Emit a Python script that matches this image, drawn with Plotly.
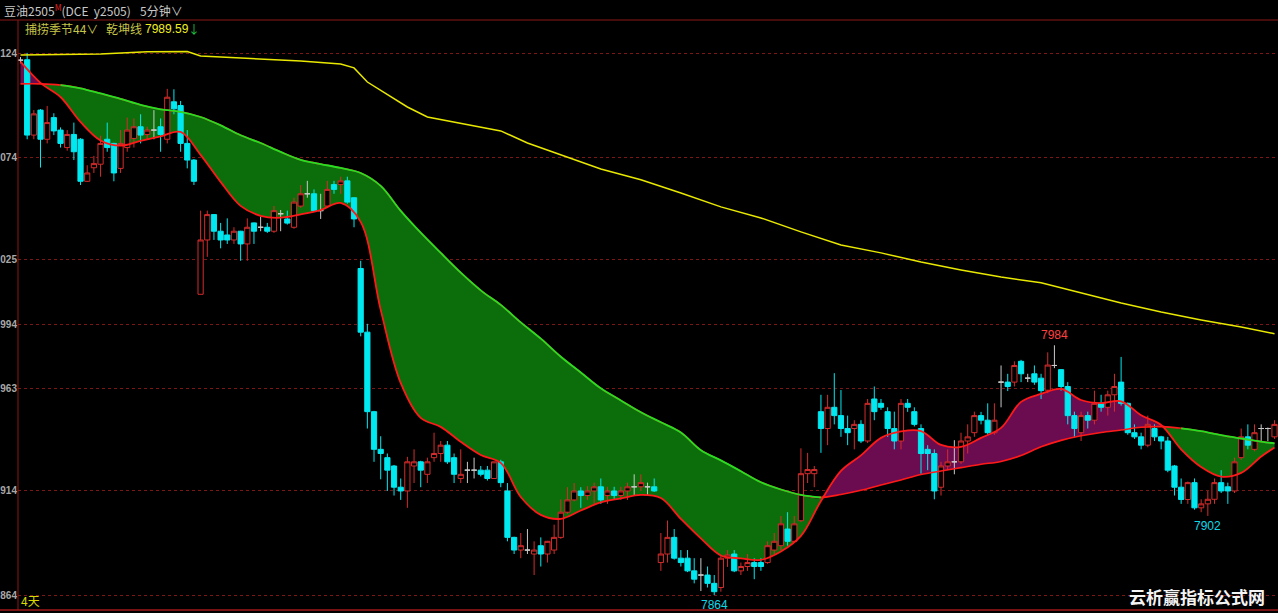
import numpy as np
import plotly.graph_objects as go

# ---------------- data (5-minute candles, index = bar number) ----------------
open_ = [8121, 8121.2, 8085, 8097, 8083, 8093.4, 8087.4, 8079, 8085.3, 8083,
         8062.8, 8069.3, 8071, 8083, 8081, 8069, 8079, 8083.4, 8089, 8085.3,
         8087.4, 8089, 8083, 8101, 8099.2, 8081, 8073, 8008.5, 8034.6, 8046.8,
         8038.8, 8037, 8034.6, 8038.8, 8032.7, 8042.8, 8040.7, 8040.7, 8038.8, 8047.2,
         8044.7, 8040.7, 8050.9, 8056.8, 8056.8, 8048.7, 8050.9, 8061.2, 8061.2, 8063,
         8054.9, 8020.9, 7990.3, 7952.1, 7934, 7930, 7926, 7915.8, 7914, 7926,
         7928, 7922, 7930, 7932, 7936, 7930, 7920, 7924, 7924, 7924,
         7924, 7920, 7928, 7914, 7891.7, 7885.6, 7885.6, 7883.7, 7887.7, 7883.7,
         7885.6, 7891.7, 7903.8, 7909.7, 7914, 7911.8, 7914, 7916, 7911.8, 7914,
         7911.8, 7914, 7916, 7916, 7916, 7916, 7879.6, 7883.7, 7891.7, 7881.7,
         7881.7, 7875.6, 7873.6, 7873.6, 7869.6, 7867.6, 7881.7, 7883.7, 7875.6, 7877.7,
         7879.6, 7879.6, 7879.6, 7885.6, 7887.7, 7895.7, 7889.8, 7899.7, 7922.3, 7922.3,
         7952.1, 7944, 7954.2, 7950.2, 7944, 7944, 7946, 7938, 7958.2, 7956.1,
         7952.1, 7944, 7938, 7956.1, 7952.1, 7944, 7934, 7932, 7915.8, 7926,
         7928, 7928, 7938, 7942, 7950.2, 7948, 7942, 7966.3, 7966.3, 7966.3,
         7976.3, 7968.2, 7970.3, 7968.2, 7962.4, 7974.3, 7972.3, 7964.2, 7950.2, 7942,
         7950.2, 7948, 7956.1, 7954.2, 7960.2, 7966.3, 7956.1, 7942, 7940, 7936,
         7944, 7940, 7938, 7926, 7915.8, 7909.9, 7918, 7905.9, 7907.8, 7910,
         7918, 7916, 7914, 7930, 7940, 7934, 7944, 7944, 7940]
high = [8122.5, 8124.5, 8097, 8097.5, 8099, 8095.5, 8088.7, 8087.4, 8091, 8083.5,
        8070.5, 8075, 8084.7, 8091, 8081.3, 8087.4, 8093.4, 8093, 8095, 8089,
        8097, 8093, 8107.2, 8107, 8101.4, 8087.4, 8073.5, 8048.7, 8048.7, 8047,
        8042.8, 8045, 8040.7, 8039, 8045, 8043, 8045.8, 8042.8, 8050.9, 8049,
        8048.7, 8054.9, 8061, 8063, 8058.9, 8056.8, 8063, 8063, 8065, 8065,
        8055, 8024.6, 7994.3, 7952.5, 7940.3, 7932, 7926.5, 7920, 7930.4, 7934,
        7928.5, 7930, 7942, 7938, 7938, 7932, 7934, 7928, 7930, 7926,
        7926, 7928, 7929, 7917.8, 7892, 7893.8, 7895.7, 7889.8, 7891.7, 7890,
        7897.8, 7909.9, 7915.8, 7917.8, 7915.8, 7916.3, 7918, 7920, 7916, 7916,
        7916, 7918, 7922, 7922, 7918, 7920, 7893.8, 7899.8, 7895.7, 7885.6,
        7885.6, 7881.7, 7881.7, 7877.7, 7873.6, 7883.3, 7885.6, 7885.6, 7879.6, 7883.7,
        7881.7, 7881.7, 7889.8, 7893.8, 7902, 7903.8, 7902, 7934.5, 7932.3, 7926,
        7960.2, 7960.2, 7970.6, 7962.5, 7950.2, 7948, 7948, 7958.2, 7964.2, 7958.2,
        7954.2, 7952.1, 7958.2, 7958.2, 7954.2, 7946, 7936, 7934, 7928, 7934,
        7938.4, 7942, 7946, 7952.1, 7952, 7956.1, 7956.1, 7974.3, 7970.3, 7976.3,
        7977, 7970.3, 7974.3, 7970.3, 7980.6, 7984, 7972.5, 7966.3, 7952.1, 7952.1,
        7952.1, 7962.2, 7960.2, 7962.2, 7970.3, 7978.4, 7956.5, 7946, 7942, 7950.2,
        7946, 7940.5, 7940, 7926.5, 7920, 7918.5, 7920, 7910, 7914, 7920,
        7924, 7918, 7930, 7944, 7946, 7946, 7946, 7944.5, 7948]
low = [8119.5, 8083, 8083, 8069.4, 8081, 8085, 8079, 8077.5, 8073, 8061,
       8062.5, 8066.8, 8065, 8077, 8062.8, 8066.8, 8077, 8079, 8081, 8083,
       8083, 8077, 8081, 8095, 8077, 8069, 8061, 8008.5, 8026.5, 8034.6,
       8030.6, 8032.7, 8032.7, 8024.6, 8024.6, 8032.7, 8038.8, 8038, 8038, 8038.8,
       8042, 8040, 8050, 8054.9, 8048, 8044.7, 8050, 8056.8, 8056.8, 8052,
       8040.7, 7988.3, 7944, 7928, 7919.6, 7914, 7911.8, 7909.7, 7905.9, 7917.8,
       7915.8, 7917.8, 7928, 7928, 7927, 7917.8, 7917.8, 7917.8, 7920, 7921,
       7919, 7920, 7915.8, 7889.8, 7883.7, 7881.7, 7883.7, 7873.6, 7877.7, 7879.6,
       7883.7, 7891, 7903, 7909, 7905.9, 7909.7, 7907.8, 7907.8, 7907.8, 7909.7,
       7909.7, 7909.7, 7911.8, 7914, 7911.8, 7913.5, 7875.6, 7879.6, 7881, 7877.7,
       7875, 7869.6, 7865.9, 7867.6, 7864, 7865.6, 7877.5, 7875, 7873.6, 7875.6,
       7871.6, 7875.6, 7879, 7883.7, 7885.6, 7887.7, 7889, 7899, 7917.8, 7915.8,
       7932.3, 7936, 7946, 7940, 7936, 7934, 7937, 7937, 7948, 7953,
       7940, 7934, 7934, 7952, 7945, 7922.3, 7924, 7910, 7911.8, 7924,
       7922, 7927, 7932, 7940, 7946, 7941, 7941, 7954.2, 7962, 7964.2,
       7966.3, 7966.3, 7965, 7958.2, 7961, 7973, 7962.2, 7946, 7940, 7938,
       7944, 7946, 7952.1, 7950.2, 7952.1, 7955, 7941, 7939, 7934, 7935,
       7938, 7934, 7923, 7911.8, 7907.8, 7907.8, 7905, 7903.8, 7902, 7907.8,
       7913, 7907.8, 7913, 7929, 7934, 7933, 7938, 7938, 7939]
close = [8121, 8085, 8095.2, 8083, 8091, 8087, 8081, 8085.3, 8077, 8062.8,
         8066.8, 8071.3, 8081, 8079, 8066.8, 8081, 8087.4, 8089, 8085, 8087.4,
         8087.4, 8085.3, 8103.2, 8097.6, 8081, 8073, 8062.8, 8034.6, 8046.8, 8038.8,
         8034.6, 8034.6, 8038.8, 8032.7, 8040.7, 8038.8, 8040.7, 8038.8, 8048.7, 8047.2,
         8042.7, 8052.8, 8056.8, 8056.8, 8048.7, 8048.7, 8058.9, 8058.9, 8063, 8052.8,
         8044.7, 7990.3, 7952.1, 7934, 7932, 7924, 7915.8, 7914, 7928, 7928,
         7924, 7928, 7932, 7936, 7928, 7922, 7922, 7924, 7924, 7922,
         7920, 7928, 7918, 7891.7, 7885.6, 7887.7, 7885.6, 7885.6, 7883.7, 7889.8,
         7891.7, 7903.8, 7909.7, 7914, 7911.8, 7914, 7916, 7909.7, 7914, 7911.8,
         7914, 7916, 7916, 7918, 7916, 7914, 7883.7, 7891.7, 7881.7, 7879.6,
         7875.6, 7871.6, 7873.6, 7869.6, 7865.6, 7881.7, 7883.3, 7875.6, 7877.7, 7879.6,
         7877.7, 7877.7, 7887.7, 7889.8, 7898.2, 7889.8, 7898.2, 7922.3, 7924.3, 7924.3,
         7944, 7954.2, 7950.2, 7944, 7942, 7946, 7938, 7956.1, 7952.1, 7954.2,
         7944, 7938, 7956.1, 7954.2, 7946, 7932, 7932, 7914, 7926, 7928,
         7928, 7938, 7940, 7950.2, 7948, 7942, 7948, 7966.3, 7964.2, 7974.3,
         7970.3, 7968.2, 7966.3, 7962.2, 7974.5, 7974.3, 7964.2, 7950.2, 7944, 7950.2,
         7948, 7956.1, 7954.2, 7960.2, 7964.2, 7956.1, 7942, 7940, 7936, 7946,
         7940, 7938, 7924, 7915.8, 7909.9, 7918, 7905.9, 7907.8, 7910, 7918,
         7914, 7914, 7928, 7940, 7936, 7942, 7944, 7944, 7946]

# 捕捞季节 short / long lines, read every 3 bars
ma_idx = list(range(0, 187, 3)) + [188]
ma_short = [8120.3, 8110.1, 8103.3, 8091.3, 8082.4, 8079.9, 8082.2, 8084.4, 8086.5, 8075.5,
            8062.5, 8051.0, 8046.2, 8045.3, 8046.9, 8049.0, 8052.4, 8043.3, 8001.0, 7965.9,
            7949.1, 7944.8, 7937.6, 7931.3, 7927.5, 7911.1, 7902.5, 7900.6, 7904.6, 7908.5,
            7910.4, 7912.1, 7910.6, 7900.6, 7891.2, 7883.0, 7881.6, 7880.9, 7884.9, 7892.4,
            7909.2, 7923.6, 7931.1, 7939.5, 7942.6, 7942.8, 7936.1, 7935.2, 7939.5, 7944.3,
            7956.8, 7960.6, 7963.0, 7957.7, 7956.2, 7957.1, 7950.4, 7945.7, 7934.0, 7925.5,
            7920.9, 7922.7, 7930.6, 7934.9]
ma_long = [8109.6, 8109.6, 8109.0, 8107.5, 8105.0, 8102.4, 8099.5, 8097.4, 8096.2, 8093.7,
           8089.7, 8084.9, 8081.2, 8076.9, 8073.1, 8071.1, 8069.2, 8066.8, 8060.6, 8048.6,
           8038.1, 8028.4, 8018.9, 8010.4, 8003.4, 7995.0, 7987.2, 7978.5, 7970.9, 7963.3,
           7957.5, 7951.8, 7947.0, 7942.1, 7933.6, 7928.7, 7923.5, 7918.2, 7914.7, 7912.1,
           7910.9, 7912.3, 7914.3, 7916.9, 7919.3, 7921.9, 7923.6, 7925.2, 7926.8, 7928.2,
           7931.0, 7935.2, 7938.3, 7940.5, 7942.1, 7943.3, 7944.6, 7944.9, 7944.1, 7942.7,
           7940.8, 7939.2, 7937.7, 7936.9]

# 乾坤线
qk_idx = [0, 12, 19, 25, 27, 34, 42, 48, 50, 52, 55, 58, 61, 66, 72, 76, 81, 87, 93, 99,
          105, 111, 117, 123, 129, 135, 141, 147, 153, 159, 165, 171, 177, 183, 188]
qk_line = [8123.5, 8124.0, 8125.0, 8125.2, 8123.0, 8122.0, 8120.6, 8119.2, 8117.3, 8110.5,
           8104.3, 8098.5, 8093.7, 8090.8, 8087.0, 8081.2, 8075.5, 8068.7, 8063.5, 8057.2,
           8050.5, 8045.2, 8038.5, 8032.2, 8028.4, 8024.0, 8020.2, 8016.8, 8014.0, 8009.2,
           8004.3, 8000.0, 7996.2, 7992.8, 7989.59]

# price ticks; the reference shows only the last three digits (clipped by the panel edge)
tick_vals = [8124, 8074, 8025, 7994, 7963, 7914, 7864]
tick_text = ["124", "074", "025", "994", "963", "914", "864"]

# marked extremes: bar indices
mark_high = [155]
mark_low = [178, 104]

# ---------------- styling ----------------
BG = "#000000"
UP = "#d42c2c"
DOWN = "#00e8f0"
DOJI = "#c8c8c8"
RED_LINE = "#ff1a1a"
GREEN_LINE = "#22e022"
FILL_GREEN = "#0b6e0b"
FILL_PURPLE = "#6c0c50"
YELLOW = "#e8e800"
GRID = "#7a1818"
BORDER = "#8c1616"

o = np.array(open_, float)
h = np.array(high, float)
l = np.array(low, float)
c = np.array(close, float)
idx = np.arange(len(o))

s = np.array(ma_short, float)
g = np.array(ma_long, float)
top = np.maximum(s, g)

fig = go.Figure()

# fills (base subplot, drawn beneath candles)
fig.add_trace(go.Scatter(x=ma_idx, y=s, mode="lines", line=dict(width=0, shape="spline"),
                         hoverinfo="skip", showlegend=False))
fig.add_trace(go.Scatter(x=ma_idx, y=top, mode="lines", line=dict(width=0, shape="spline"),
                         fill="tonexty", fillcolor=FILL_GREEN, hoverinfo="skip", showlegend=False))
fig.add_trace(go.Scatter(x=ma_idx, y=g, mode="lines", line=dict(width=0, shape="spline"),
                         hoverinfo="skip", showlegend=False))
fig.add_trace(go.Scatter(x=ma_idx, y=top, mode="lines", line=dict(width=0, shape="spline"),
                         fill="tonexty", fillcolor=FILL_PURPLE, hoverinfo="skip", showlegend=False))

# candles (overlay subplot, drawn above the fills)
def candle(mask, inc_line, inc_fill, dec_line, dec_fill):
    return go.Candlestick(
        x=idx[mask], open=o[mask], high=h[mask], low=l[mask], close=c[mask],
        increasing=dict(line=dict(color=inc_line, width=1), fillcolor=inc_fill),
        decreasing=dict(line=dict(color=dec_line, width=1), fillcolor=dec_fill),
        whiskerwidth=0, yaxis="y2", hoverinfo="skip", showlegend=False)

fig.add_trace(candle(c > o, UP, BG, UP, BG))
fig.add_trace(candle(c < o, DOWN, DOWN, DOWN, DOWN))
fig.add_trace(candle(c == o, DOJI, DOJI, DOJI, DOJI))

# indicator lines
g_green = np.where(g >= s, g, np.nan)
fig.add_trace(go.Scatter(x=ma_idx, y=g, mode="lines", yaxis="y2",
                         line=dict(color=RED_LINE, width=1.6, shape="spline"),
                         hoverinfo="skip", showlegend=False))
fig.add_trace(go.Scatter(x=ma_idx, y=g_green, mode="lines", yaxis="y2",
                         line=dict(color=GREEN_LINE, width=1.8, shape="spline"),
                         hoverinfo="skip", showlegend=False))
fig.add_trace(go.Scatter(x=ma_idx, y=s, mode="lines", yaxis="y2",
                         line=dict(color=RED_LINE, width=1.8, shape="spline"),
                         hoverinfo="skip", showlegend=False))
fig.add_trace(go.Scatter(x=qk_idx, y=qk_line, mode="lines", yaxis="y2",
                         line=dict(color=YELLOW, width=1.5),
                         hoverinfo="skip", showlegend=False))

# ---------------- layout ----------------
W, H = 1278, 613
ML, MR, MT, MB = 18, 0, 20, 3
PW, PH = W - ML - MR, H - MT - MB
YR = [7856.8, 8140.3]
XR = [-0.375, 188.52]

def px(xp):
    return (xp - ML) / PW

def py(yp):
    return (H - MB - yp) / PH

annotations = []
CJK = "Noto Sans CJK SC"
annotations.append(dict(xref="paper", yref="paper", x=px(2), y=py(10), xanchor="left", yanchor="middle",
                        text="豆油2505<sup><span style='color:#e02020'>M</span></sup>(DCE  y2505)",
                        showarrow=False, font=dict(family=CJK, size=12, color="#c8c8c8")))
annotations.append(dict(xref="paper", yref="paper", x=px(138), y=py(10), xanchor="left", yanchor="middle",
                        text="5分钟∨", showarrow=False, font=dict(family=CJK, size=12, color="#c8c8c8")))
annotations.append(dict(xref="paper", yref="paper", x=px(23), y=py(29), xanchor="left", yanchor="middle",
                        text="捕捞季节44∨", showarrow=False, font=dict(family=CJK, size=12, color="#c4c448")))
annotations.append(dict(xref="paper", yref="paper", x=px(104), y=py(29), xanchor="left", yanchor="middle",
                        text="乾坤线", showarrow=False, font=dict(family=CJK, size=12, color="#c4c448")))
annotations.append(dict(xref="paper", yref="paper", x=px(143), y=py(29), xanchor="left", yanchor="middle",
                        text=f"{qk_line[-1]:.2f}", showarrow=False,
                        font=dict(family="Liberation Sans", size=12, color="#f0f020")))
annotations.append(dict(xref="paper", yref="paper", x=px(186), y=py(29), xanchor="left", yanchor="middle",
                        text="↓", showarrow=False, font=dict(family=CJK, size=12, color="#20c040")))
annotations.append(dict(xref="paper", yref="paper", x=px(19), y=py(600), xanchor="left", yanchor="middle",
                        text="4天", showarrow=False, font=dict(family=CJK, size=12, color="#d8d800")))
annotations.append(dict(xref="paper", yref="paper", x=px(1197), y=py(596), xanchor="center", yanchor="middle",
                        text="<b>云析赢指标公式网</b>", showarrow=False,
                        font=dict(family=CJK, size=17, color="#f4f4f4")))
for i in mark_high:
    annotations.append(dict(x=int(i), y=float(h[i]), xref="x", yref="y", text=f"{h[i]:.0f}",
                            showarrow=False, yanchor="bottom", yshift=1,
                            font=dict(family="Liberation Sans", size=12, color="#ff4040")))
for i in mark_low:
    annotations.append(dict(x=int(i), y=float(l[i]), xref="x", yref="y", text=f"{l[i]:.0f}",
                            showarrow=False, yanchor="top", yshift=-1,
                            font=dict(family="Liberation Sans", size=12, color="#10d8e8")))

shapes = [
    dict(type="line", xref="paper", yref="paper", x0=0, x1=0, y0=0, y1=1,
         line=dict(color=BORDER, width=1)),
    dict(type="line", xref="paper", yref="paper", x0=px(0), x1=1, y0=1, y1=1,
         line=dict(color=BORDER, width=1)),
    dict(type="line", xref="paper", yref="paper", x0=px(0), x1=1, y0=0, y1=0,
         line=dict(color="#a01818", width=1.5)),
]

fig.update_layout(
    width=W, height=H,
    paper_bgcolor=BG, plot_bgcolor=BG,
    margin=dict(l=ML, r=MR, t=MT, b=MB, pad=0, autoexpand=False),
    showlegend=False,
    boxgap=0.22, boxgroupgap=0,
    xaxis=dict(range=XR, showgrid=False, zeroline=False, showticklabels=False, ticks="",
               showline=False, rangeslider=dict(visible=False), fixedrange=True, automargin=False),
    yaxis=dict(range=YR, tickvals=tick_vals, ticktext=tick_text, showgrid=True,
               gridcolor=GRID, griddash="dot", gridwidth=1, zeroline=False, ticks="",
               ticklabelstandoff=0, showline=False, automargin=False,
               tickfont=dict(family="Liberation Sans", size=10, color="#a8a8a8", weight="bold")),
    yaxis2=dict(range=YR, overlaying="y", visible=False, showgrid=False, zeroline=False,
                automargin=False),
    annotations=annotations,
    shapes=shapes,
    hovermode=False,
)

fig.write_html("out.html",
               config={"displayModeBar": False, "staticPlot": True},
               post_script="document.body.style.margin='0';document.body.style.overflow='hidden';")
